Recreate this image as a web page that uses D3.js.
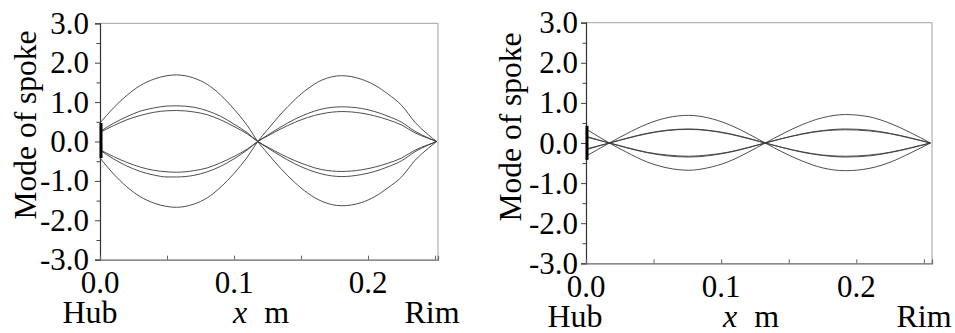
<!DOCTYPE html>
<html><head><meta charset="utf-8">
<script src="https://cdn.jsdelivr.net/npm/d3@7/dist/d3.min.js"></script>
<style>
html,body{margin:0;padding:0;background:#fff;}
</style></head>
<body>
<svg id="chart" width="955" height="333"></svg>
<script>
// ---------- data ----------
const yTickLabels = ["3.0","2.0","1.0","0.0","-1.0","-2.0","-3.0"];
const yTicks = [3,2,1,0,-1,-2,-3];
const xTickLabels = ["0.0","0.1","0.2"];
const xTicks = [0,0.1,0.2];
const bottomLabels = ["Hub","x","m","Rim"];
const yTitle = "Mode of spoke";

// left panel
const xLeft = [0,0.010,0.020,0.030,0.040,0.050,0.057,0.070,0.080,0.090,0.100,0.110,0.1177,0.125,0.135,0.145,0.155,0.165,0.1804,0.195,0.205,0.215,0.225,0.235,0.245,0.2512];
const leftA  = [0.47,0.85,1.17,1.42,1.58,1.67,1.69,1.61,1.45,1.18,0.82,0.40,0,-0.30,-0.69,-1.03,-1.31,-1.51,-1.63,-1.55,-1.40,-1.17,-0.90,-0.48,-0.17,0];
const leftA2 = [-0.42,-0.82,-1.15,-1.40,-1.56,-1.65,-1.67,-1.59,-1.43,-1.16,-0.81,-0.39,0,0.30,0.70,1.05,1.34,1.55,1.67,1.58,1.43,1.20,0.92,0.49,0.17,0];
const leftB  = [0.25,0.46,0.63,0.77,0.85,0.90,0.906,0.87,0.78,0.64,0.44,0.22,0,-0.16,-0.37,-0.56,-0.71,-0.82,-0.89,-0.84,-0.76,-0.64,-0.49,-0.26,-0.09,0];
const leftB2 = [-0.22,-0.44,-0.62,-0.76,-0.85,-0.90,-0.90,-0.86,-0.77,-0.63,-0.44,-0.21,0,0.16,0.37,0.56,0.71,0.82,0.88,0.84,0.76,0.64,0.49,0.26,0.09,0];
const leftC  = [0.23,0.40,0.55,0.66,0.74,0.78,0.787,0.75,0.68,0.55,0.38,0.19,0,-0.14,-0.32,-0.48,-0.61,-0.71,-0.76,-0.72,-0.65,-0.55,-0.42,-0.22,-0.08,0];
const leftC2 = [-0.21,-0.38,-0.53,-0.65,-0.73,-0.77,-0.78,-0.74,-0.67,-0.54,-0.38,-0.19,0,0.14,0.32,0.48,0.61,0.70,0.76,0.72,0.65,0.55,0.42,0.22,0.08,0];
const leftHub = [0.47,-0.42];

// right panel
const xRight = [0,0.0173,0.030,0.045,0.060,0.076,0.090,0.105,0.120,0.1326,0.145,0.160,0.175,0.192,0.210,0.225,0.240,0.2548];
const rightD  = [0.35,0,-0.23,-0.47,-0.62,-0.68,-0.62,-0.47,-0.23,0,0.22,0.46,0.63,0.71,0.65,0.49,0.26,0];
const rightD2 = [-0.33,0,0.23,0.47,0.63,0.69,0.63,0.47,0.23,0,-0.22,-0.45,-0.62,-0.69,-0.63,-0.48,-0.25,0];
const rightE  = [0.17,0,-0.11,-0.23,-0.30,-0.33,-0.30,-0.23,-0.11,0,0.11,0.23,0.31,0.35,0.32,0.24,0.13,0];
const rightE2 = [0.15,0,-0.12,-0.24,-0.32,-0.35,-0.32,-0.24,-0.12,0,0.11,0.22,0.30,0.33,0.30,0.23,0.12,0];
const rightF  = [-0.15,0,0.12,0.24,0.32,0.35,0.32,0.24,0.12,0,-0.11,-0.22,-0.30,-0.33,-0.30,-0.23,-0.12,0];
const rightF2 = [-0.17,0,0.11,0.23,0.31,0.34,0.31,0.23,0.11,0,-0.11,-0.23,-0.31,-0.35,-0.32,-0.24,-0.13,0];
const rightHub = [0.43,-0.42];

// ---------- drawing ----------
const FONT = "'Liberation Serif', 'Times New Roman', 'DejaVu Serif', serif";
const svg = d3.select("#chart");

function panel(cfg){
  const g = svg.append("g").attr("font-family",FONT);
  const x = d3.scaleLinear().domain([0,cfg.xMax]).range([cfg.left,cfg.right]);
  const y = d3.scaleLinear().domain([-3,3]).range([cfg.bottom,cfg.top]);

  // frame top/right
  g.append("line").attr("x1",cfg.left).attr("x2",cfg.right).attr("y1",cfg.top).attr("y2",cfg.top)
    .attr("stroke","#a0a0a0").attr("stroke-width",1);
  g.append("line").attr("x1",cfg.right).attr("x2",cfg.right).attr("y1",cfg.top).attr("y2",cfg.bottom)
    .attr("stroke","#a0a0a0").attr("stroke-width",1);

  // y axis
  const yAx = d3.axisLeft(y).tickValues(d3.range(-3,3.01,0.5)).tickSize(5).tickFormat("");
  const ya = g.append("g").attr("transform",`translate(${cfg.left},0)`).call(yAx);
  ya.select(".domain").attr("stroke","#333").attr("stroke-width",1.2);
  ya.selectAll(".tick line").attr("stroke","#444")
    .attr("x2",d=> Math.abs(d-Math.round(d))<1e-6 ? -5 : -3.5);
  g.selectAll("text.yt").data(yTicks).join("text").attr("class","yt")
    .attr("x",cfg.ylabX).attr("y",d=>y(d)).attr("dy","0.34em")
    .attr("text-anchor","end").attr("font-size",31).attr("fill","#000")
    .attr("font-family",FONT)
    .text((d,i)=>yTickLabels[i]);

  // x axis
  const xAx = d3.axisBottom(x).tickValues(d3.range(0,cfg.xMax,0.05)).tickSize(-4).tickFormat("");
  const xa = g.append("g").attr("transform",`translate(0,${cfg.bottom})`).call(xAx);
  xa.select(".domain").attr("stroke","#666").attr("stroke-width",1.2);
  xa.selectAll(".tick line").attr("stroke","#666");
  g.selectAll("text.xt").data(xTicks).join("text").attr("class","xt")
    .attr("x",d=>x(d)).attr("y",cfg.xlabY).attr("text-anchor","middle")
    .attr("font-size",31).attr("fill","#000").attr("font-family",FONT)
    .text((d,i)=>xTickLabels[i]);

  // bottom labels
  g.append("text").attr("x",cfg.hubX).attr("y",cfg.botY).attr("text-anchor","middle")
    .attr("font-family",FONT).attr("font-size",32).text(bottomLabels[0]);
  const t = g.append("text").attr("x",cfg.xmX).attr("y",cfg.botY).attr("font-size",32).attr("font-family",FONT);
  t.append("tspan").attr("font-style","italic").text(bottomLabels[1]);
  t.append("tspan").attr("dx",17).text(bottomLabels[2]);
  g.append("text").attr("x",cfg.rimX).attr("y",cfg.botY).attr("text-anchor","middle")
    .attr("font-family",FONT).attr("font-size",32).text(bottomLabels[3]);

  // y title
  g.append("text").attr("transform",`translate(${cfg.titleX},${cfg.titleY}) rotate(-90)`)
    .attr("text-anchor","middle").attr("dy","0.35em").attr("font-size",31.5)
    .attr("font-family",FONT).text(yTitle);

  // curves
  const line = d3.line().x((d,i)=>x(cfg.xs[i])).y(d=>y(d)).curve(d3.curveMonotoneX);
  g.selectAll("path.mode").data(cfg.series).join("path").attr("class","mode")
    .attr("d",d=>line(d)).attr("fill","none").attr("stroke","#3a3a3a").attr("stroke-width",0.9);

  // hub bar
  g.append("line").attr("x1",x(0)+1).attr("x2",x(0)+1)
    .attr("y1",y(cfg.hub[0])).attr("y2",y(cfg.hub[1]))
    .attr("stroke","#000").attr("stroke-width",3);
}

panel({left:100,right:438,top:23.3,bottom:259.7,xMax:0.2522,
  ylabX:89,xlabY:293,botY:323,hubX:90,xmX:233,rimX:432,titleX:25,titleY:125,
  xs:xLeft,series:[leftA,leftA2,leftB,leftB2,leftC,leftC2],hub:leftHub});
panel({left:586,right:932,top:22.7,bottom:263.3,xMax:0.256,
  ylabX:578,xlabY:297,botY:327,hubX:575,xmX:723,rimX:924,titleX:510,titleY:127,
  xs:xRight,series:[rightD,rightD2,rightE,rightE2,rightF,rightF2],hub:rightHub});
</script>
</body></html>
